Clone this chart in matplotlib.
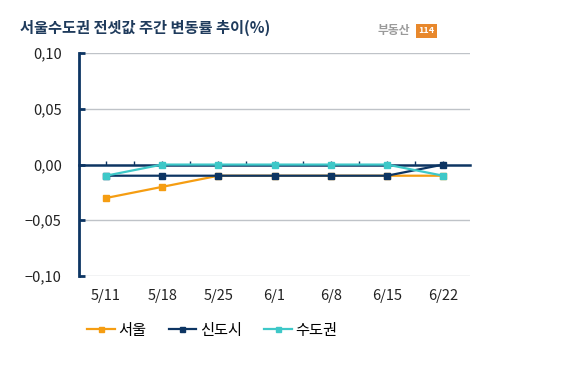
import matplotlib.pyplot as plt
from matplotlib.ticker import FixedLocator, FuncFormatter

plt.rcParams['font.family'] = ['Noto Sans CJK KR', 'DejaVu Sans']

# 데이터
weeks = ['5/11', '5/18', '5/25', '6/1', '6/8', '6/15', '6/22']
seoul = [-0.03, -0.02, -0.01, -0.01, -0.01, -0.01, -0.01]
sindosi = [-0.01, -0.01, -0.01, -0.01, -0.01, -0.01, 0.00]
sudogwon = [-0.01, 0.00, 0.00, 0.00, 0.00, 0.00, -0.01]
series_names = ['서울', '신도시', '수도권']
colors = ['#F59D12', '#0D3563', '#3EC8C8']
yticks = [0.10, 0.05, 0.00, -0.05, -0.10]

navy = '#0D3563'


def fmt(v, p):
    s = f'{abs(v):.2f}'.replace('.', ',')
    return ('\u2212' + s) if v < -1e-9 else s


fig = plt.figure(figsize=(5.62, 3.69), dpi=100)
ax = fig.add_axes([0.1406, 0.252, 0.696, 0.604])

x = list(range(len(weeks)))
for vals, name, c in zip([seoul, sindosi, sudogwon], series_names, colors):
    ax.plot(x, vals, color=c, lw=1.6, marker='s', ms=4.5, label=name)

ax.set_xlim(-0.48, 6.48)
ax.set_ylim(-0.10, 0.10)

# 눈금선
for v in [0.10, 0.05, -0.05, -0.10]:
    ax.axhline(v, color='#BFC3C8', lw=1.0, zorder=0)

# 스파인
for s in ['top', 'right']:
    ax.spines[s].set_visible(False)
ax.spines['left'].set_color(navy)
ax.spines['left'].set_linewidth(2)
ax.spines['bottom'].set_position(('data', 0))
ax.spines['bottom'].set_color(navy)
ax.spines['bottom'].set_linewidth(1.8)
ax.spines['bottom'].set_zorder(1)

ax.set_yticks(yticks)
ax.yaxis.set_major_formatter(FuncFormatter(fmt))
ax.tick_params(axis='y', direction='in', length=4, width=2, color=navy,
               labelsize=10.5, pad=12.5, labelcolor='#222222')

# 0선의 작은 눈금
ax.xaxis.set_major_locator(FixedLocator([i * 0.5 for i in range(14)]))
ax.tick_params(axis='x', direction='in', length=3, width=1, color=navy, labelbottom=False)

# x 라벨
sec = ax.secondary_xaxis(0)
sec.set_xticks(x)
sec.set_xticklabels(weeks)
sec.spines['bottom'].set_visible(False)
sec.tick_params(length=0, pad=9, labelsize=10.5, labelcolor='#222222')

# 제목
fig.text(0.036, 0.925, '서울수도권 전셋값 주간 변동률 추이(%)', fontsize=11,
         fontweight='bold', color='#1F3B5C', va='center')
fig.text(0.671, 0.916, '부동산', fontsize=8.5, fontweight='bold', color='#9A9A9A', va='center')
fig.text(0.745, 0.916, '114', fontsize=6.5, fontweight='bold', color='white', va='center',
         bbox=dict(boxstyle='square,pad=0.25', fc='#E8882C', ec='none'))

# 범례
fig.legend(loc='center left', bbox_to_anchor=(0.155, 0.105), ncol=3, frameon=False,
           fontsize=11, handlelength=1.8, handletextpad=0.25, columnspacing=1.45,
           markerscale=0.8, borderaxespad=0, borderpad=0)

fig.savefig('out.png', dpi=100)
